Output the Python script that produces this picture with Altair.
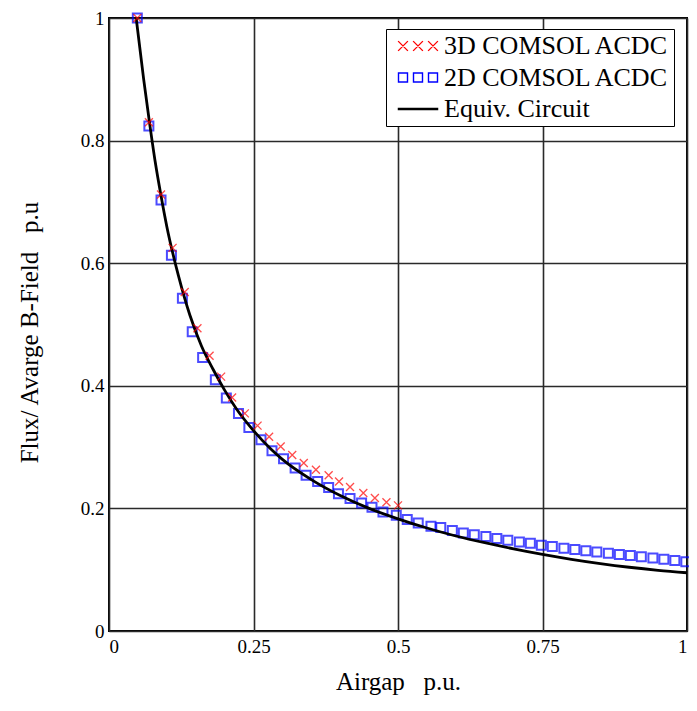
import altair as alt
import pandas as pd

# Equivalent circuit curve
curve_x = [0.047, 0.06, 0.07, 0.08, 0.09, 0.10, 0.12, 0.14, 0.16, 0.18, 0.20, 0.22, 0.25, 0.28,
           0.30, 0.35, 0.40, 0.45, 0.50, 0.55, 0.60, 0.65, 0.70, 0.75, 0.80, 0.85, 0.90, 0.95, 1.00]
curve_y = [1.00, 0.90, 0.83, 0.765, 0.71, 0.66, 0.58, 0.515, 0.465, 0.427, 0.393, 0.363, 0.327, 0.297,
           0.280, 0.247, 0.221, 0.200, 0.183, 0.168, 0.155, 0.144, 0.134, 0.125, 0.117, 0.110, 0.104, 0.099, 0.095]

# 2D COMSOL ACDC (blue squares)
d2_x = [0.049, 0.069, 0.090, 0.108, 0.127, 0.144, 0.162, 0.184, 0.203, 0.224, 0.242, 0.263, 0.282, 0.302,
        0.322, 0.341, 0.361, 0.380, 0.397, 0.417, 0.437, 0.455, 0.474, 0.497, 0.516, 0.535, 0.557, 0.574,
        0.594, 0.613, 0.632, 0.652, 0.671, 0.690, 0.710, 0.729, 0.748, 0.767, 0.787, 0.806, 0.825, 0.844,
        0.864, 0.883, 0.902, 0.921, 0.941, 0.960, 0.979, 0.998]
d2_y = [1.000, 0.824, 0.703, 0.613, 0.543, 0.488, 0.446, 0.410, 0.380, 0.355, 0.332, 0.312, 0.294, 0.281,
        0.266, 0.254, 0.244, 0.234, 0.224, 0.216, 0.209, 0.202, 0.194, 0.189, 0.182, 0.176, 0.171, 0.169,
        0.164, 0.160, 0.157, 0.154, 0.151, 0.148, 0.145, 0.143, 0.140, 0.138, 0.135, 0.133, 0.131, 0.129,
        0.127, 0.125, 0.123, 0.121, 0.119, 0.117, 0.115, 0.113]

# 3D COMSOL ACDC (red crosses)
d3_x = [0.049, 0.069, 0.090, 0.110, 0.131, 0.153, 0.174, 0.194, 0.213, 0.235, 0.257, 0.277, 0.297, 0.317,
        0.337, 0.358, 0.380, 0.398, 0.417, 0.440, 0.460, 0.480, 0.500]
d3_y = [1.000, 0.830, 0.712, 0.625, 0.553, 0.494, 0.449, 0.415, 0.381, 0.355, 0.335, 0.317, 0.301, 0.287,
        0.274, 0.263, 0.254, 0.244, 0.235, 0.225, 0.217, 0.210, 0.205]

SER3 = "3D COMSOL ACDC"
SER2 = "2D COMSOL ACDC"
SERC = "Equiv. Circuit"
series_names = [SER3, SER2, SERC]
series_colors = ["#ff0000", "#0000ff", "#000000"]

x_ticks = [0, 0.25, 0.5, 0.75, 1]
y_ticks = [0, 0.2, 0.4, 0.6, 0.8, 1]

FONT = "Liberation Serif"
SP = "\u00a0\u00a0\u00a0"
X_PATH = "M-1,-1L1,1M-1,1L1,-1"

# legend glyphs: three crosses, three squares, a thick line
LEG3 = ("M-0.65,-0.65L0.65,0.65M-0.65,0.65L0.65,-0.65"
        "M1.35,-0.65L2.65,0.65M1.35,0.65L2.65,-0.65"
        "M3.35,-0.65L4.65,0.65M3.35,0.65L4.65,-0.65")
LEG2 = ("M-0.6,-0.6H0.6V0.6H-0.6Z"
        "M1.4,-0.6H2.6V0.6H1.4Z"
        "M3.4,-0.6H4.6V0.6H3.4Z")
LEGC = "M-0.7,-0.07H4.7M-0.7,0.07H4.7M-0.7,0H4.7"
legend_shapes = [LEG3, LEG2, LEGC]

sq_df = pd.DataFrame({"x": d2_x, "y": d2_y, "series": SER2})
cr_df = pd.DataFrame({"x": d3_x, "y": d3_y, "series": SER3})
ln_df = pd.DataFrame({"x": curve_x, "y": curve_y, "series": SERC})

xenc = alt.X("x:Q", scale=alt.Scale(domain=[0, 1], nice=False),
             axis=alt.Axis(values=x_ticks, format="~g", title="Airgap" + SP + "p.u.",
                           titleX=289, titleY=50, titleAlign="center", titleBaseline="middle",
                           labelPadding=6, labelFlush=True, labelOverlap=False))
yenc = alt.Y("y:Q", scale=alt.Scale(domain=[0, 1], nice=False),
             axis=alt.Axis(values=y_ticks, format="~g", title="Flux/ Avarge B-Field" + SP + "p.u",
                           titleX=-80, titleY=314, titleAngle=270, titleAlign="center",
                           titleBaseline="middle", labelPadding=5, labelFlush=False,
                           labelOverlap=False))

legend = alt.Legend(
    title=None, orient="none", legendX=277, legendY=11, direction="vertical",
    fillColor="white", strokeColor="black", padding=4,
    labelFont=FONT, labelFontSize=26, labelColor="black", labelOffset=28, labelLimit=500,
    rowPadding=5.5, symbolSize=225, symbolStrokeWidth=1.4, symbolOpacity=1,
    symbolFillColor="transparent",
)

color_leg = alt.Color("series:N", scale=alt.Scale(domain=series_names, range=series_colors),
                      legend=legend)
shape_leg = alt.Shape("series:N", scale=alt.Scale(domain=series_names, range=legend_shapes),
                      legend=legend)

squares = alt.Chart(sq_df).mark_point(shape="square", filled=False, size=81, strokeWidth=2).encode(
    x=xenc, y=yenc, color=color_leg)
line = alt.Chart(ln_df).mark_line(strokeWidth=2.8, interpolate="monotone").encode(
    x="x:Q", y="y:Q", color=color_leg)
crosses = alt.Chart(cr_df).mark_point(shape=X_PATH, filled=False, size=64, strokeWidth=1.3).encode(
    x="x:Q", y="y:Q", color=color_leg)
legend_layer = alt.Chart(ln_df).transform_filter("false").mark_point(
    filled=False, size=225, strokeWidth=1.4).encode(
    x="x:Q", y="y:Q", color=color_leg, shape=shape_leg)

chart = alt.layer(squares, line, crosses, legend_layer).properties(
    width=578, height=613,
    autosize=alt.AutoSizeParams(type="none"),
    padding={"left": 101, "top": 10, "right": 2, "bottom": 67},
).configure(font=FONT).configure_view(
    stroke="black", strokeWidth=2
).configure_axis(
    domain=False, ticks=False, grid=True, gridColor="#2a2a2a", gridWidth=1.6, gridOpacity=1,
    labelFont=FONT, labelFontSize=19, labelColor="black",
    titleFont=FONT, titleFontSize=25, titleFontWeight="normal", titleColor="black",
)

chart.save("out.html", embed_options={"renderer": "svg", "actions": False})
